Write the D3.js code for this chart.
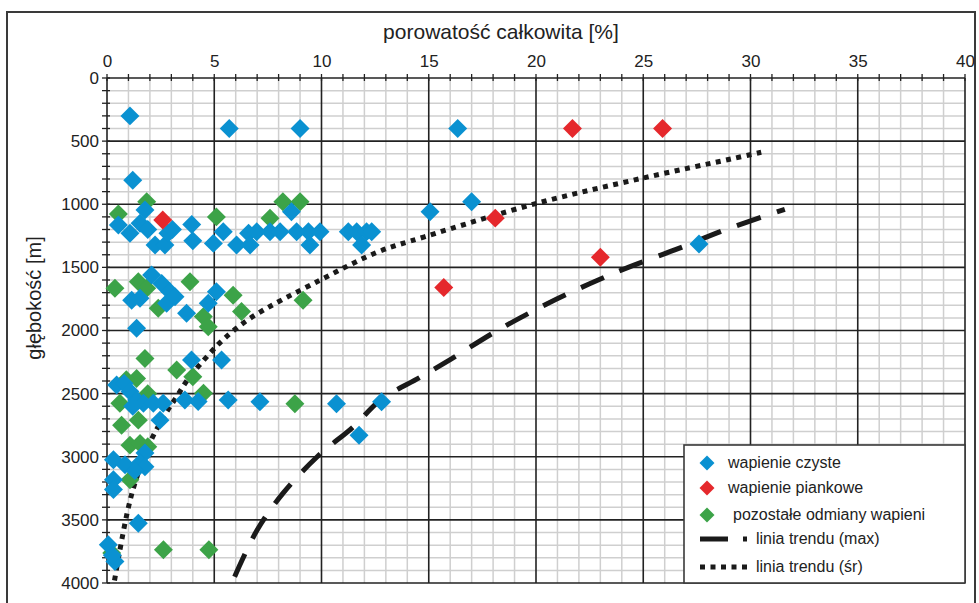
<!DOCTYPE html>
<html><head><meta charset="utf-8">
<script src="https://cdn.jsdelivr.net/npm/d3@7"></script>
<style>
html,body{margin:0;padding:0;background:#fff;}
text{font-family:"Liberation Sans",Arial,sans-serif;fill:#222;}
</style></head>
<body>
<svg id="chart" width="979" height="603"></svg>
<script>
// ---- data (porosity %, depth m) ----
const xTicks = [0,5,10,15,20,25,30,35,40];
const yTicks = [0,500,1000,1500,2000,2500,3000,3500,4000];
const xTitle = "porowatość całkowita [%]";
const yTitle = "głębokość [m]";
const seriesNames = ["wapienie czyste","wapienie piankowe","pozostałe odmiany wapieni"];
const trendNames = ["linia trendu (max)","linia trendu (śr)"];

const bluePorosity = [1.07,5.7,9.0,16.35,1.2,15.06,17.0,27.6,
  0.53,1.07,1.77,1.54,1.9,2.24,2.7,2.84,3.05,3.95,4.0,4.96,5.42,6.04,6.6,6.67,6.98,7.6,8.07,8.6,8.84,9.39,9.46,9.93,11.25,11.64,12.1,11.87,12.34,
  1.15,1.54,2.08,2.55,2.93,2.78,3.17,3.71,5.1,4.72,1.38,
  3.94,5.34,0.45,0.8,1.07,1.38,1.7,1.2,2.16,2.62,3.63,4.25,5.65,7.13,10.7,12.8,11.75,2.47,1.77,0.3,0.84,1.54,1.77,1.3,0.3,0.3,1.46,0.06,0.37,0.25];
const blueDepth = [300,400,400,400,810,1060,980,1315,
  1165,1230,1045,1150,1200,1323,1323,1230,1200,1160,1290,1310,1217,1323,1230,1323,1217,1217,1217,1059,1217,1217,1323,1217,1217,1217,1217,1323,1217,
  1760,1745,1560,1627,1693,1785,1732,1864,1693,1785,1983,
  2234,2234,2432,2420,2484,2550,2576,2600,2576,2576,2550,2563,2550,2565,2580,2565,2830,2710,2971,3024,3063,3050,3080,3110,3182,3260,3526,3697,3829,3780];

const redPorosity = [21.7,25.9,2.6,18.1,23.0,15.7];
const redDepth = [400,400,1125,1110,1420,1660];

const greenPorosity = [0.53,1.85,5.1,7.6,8.2,9.0,
  0.37,1.46,1.85,2.39,3.87,4.49,4.72,5.88,6.27,9.14,
  1.77,3.25,4.0,1.38,0.9,1.9,0.6,4.5,8.76,0.68,1.46,1.07,1.54,1.9,1.07,2.63,4.75,0.22];
const greenDepth = [1078,980,1100,1111,980,980,
  1666,1613,1666,1824,1613,1890,1970,1720,1850,1760,
  2221,2313,2366,2380,2390,2500,2576,2497,2580,2750,2710,2908,2895,2920,3182,3737,3737,3763];

const trendMaxPorosity = [5.95,7.0,8.2,9.8,11.5,12.75,14.6,16.0,18.2,20.5,22.5,24.3,26.5,28.8,31.6];
const trendMaxDepth    = [3950,3580,3290,3000,2760,2550,2370,2230,2000,1790,1630,1500,1360,1204,1040];
const trendAvgPorosity = [0.35,0.92,1.3,2.0,2.7,3.25,3.8,4.8,5.4,6.7,9.95,12.6,14.8,20.1,25.0,29.1,30.5];
const trendAvgDepth    = [3980,3460,3210,2890,2668,2524,2380,2180,2075,1900,1600,1380,1258,990,792,641,588];

const colors = {blue:"#0a91d1", red:"#e5282c", green:"#3ca348"};

// ---- chart ----
const svg = d3.select("#chart");
svg.append("rect").attr("width",979).attr("height",603).attr("fill","#fff");
svg.append("rect").attr("x",7).attr("y",12).attr("width",968).attr("height",610)
  .attr("fill","none").attr("stroke","#3a3a3a").attr("stroke-width",2);

const x = d3.scaleLinear().domain([0,40]).range([107,965]);
const y = d3.scaleLinear().domain([0,4000]).range([78,583]);

const grid = svg.append("g");
grid.selectAll("line.vx").data(d3.range(1,40).filter(v=>v%5)).join("line")
  .attr("x1",d=>x(d)).attr("x2",d=>x(d)).attr("y1",y(0)).attr("y2",y(4000))
  .attr("stroke","#cfcfcf").attr("stroke-width",1.5);
grid.selectAll("line.hy").data(d3.range(100,4000,100).filter(v=>v%500)).join("line")
  .attr("y1",d=>y(d)).attr("y2",d=>y(d)).attr("x1",x(0)).attr("x2",x(40))
  .attr("stroke","#cfcfcf").attr("stroke-width",1.5);
const major = svg.append("g");
major.selectAll("line.mx").data(xTicks).join("line")
  .attr("x1",d=>x(d)).attr("x2",d=>x(d)).attr("y1",y(0)).attr("y2",y(4000))
  .attr("stroke","#222").attr("stroke-width",1.6);
major.selectAll("line.my").data(yTicks).join("line")
  .attr("y1",d=>y(d)).attr("y2",d=>y(d)).attr("x1",x(0)).attr("x2",x(40))
  .attr("stroke","#222").attr("stroke-width",1.6);

svg.append("g").selectAll("line").data(d3.range(0,41)).join("line")
  .attr("x1",d=>x(d)).attr("x2",d=>x(d)).attr("y1",y(0)-4).attr("y2",y(0)+3)
  .attr("stroke","#222").attr("stroke-width",1.3);
svg.append("g").selectAll("line").data(d3.range(0,4001,100)).join("line")
  .attr("y1",d=>y(d)).attr("y2",d=>y(d)).attr("x1",x(0)-5).attr("x2",x(0)+3)
  .attr("stroke","#222").attr("stroke-width",1.3);

const ax = svg.append("g").attr("transform",`translate(0,${y(0)})`)
  .call(d3.axisTop(x).tickValues(xTicks).tickSize(0).tickPadding(11).tickFormat(d3.format("d")));
ax.select(".domain").remove();
ax.selectAll("text").style("font-size","17px").attr("fill","#222");
const ay = svg.append("g").attr("transform",`translate(${x(0)},0)`)
  .call(d3.axisLeft(y).tickValues(yTicks).tickSize(0).tickPadding(8).tickFormat(d3.format("d")));
ay.select(".domain").remove();
ay.selectAll("text").style("font-size","17px").attr("fill","#222");

svg.append("text").attr("x",501).attr("y",39).attr("text-anchor","middle")
  .style("font-size","21px").text(xTitle);
svg.append("text").attr("transform","translate(41,298) rotate(-90)").attr("text-anchor","middle")
  .style("font-size","20px").text(yTitle);

const line = d3.line().x(d=>x(d[0])).y(d=>y(d[1])).curve(d3.curveCatmullRom);
svg.append("path").datum(trendAvgPorosity.map((v,i)=>[v,trendAvgDepth[i]]))
  .attr("d",line).attr("fill","none").attr("stroke","#1a1a1a").attr("stroke-width",5)
  .attr("stroke-dasharray","5,5.5");
svg.append("path").datum(trendMaxPorosity.map((v,i)=>[v,trendMaxDepth[i]]))
  .attr("d",line).attr("fill","none").attr("stroke","#1a1a1a").attr("stroke-width",5)
  .attr("stroke-dasharray","25,17");

const diamond = d3.symbol(d3.symbolSquare, 180);
function drawSeries(px, py, color){
  svg.append("g").selectAll("path").data(px.map((v,i)=>[v,py[i]])).join("path")
    .attr("d",diamond)
    .attr("transform",d=>`translate(${x(d[0])},${y(d[1])}) rotate(45)`)
    .attr("fill",color);
}
drawSeries(greenPorosity, greenDepth, colors.green);
drawSeries(bluePorosity, blueDepth, colors.blue);
drawSeries(redPorosity, redDepth, colors.red);

const lg = svg.append("g").attr("transform","translate(684,445)");
lg.append("rect").attr("width",281).attr("height",138).attr("fill","#fff")
  .attr("stroke","#3a3a3a").attr("stroke-width",1.6);
const lsym = d3.symbol(d3.symbolSquare, 112);
const legendItems = [
  {name:seriesNames[0], color:colors.blue, dy:18, tx:44},
  {name:seriesNames[1], color:colors.red, dy:43, tx:44},
  {name:seriesNames[2], color:colors.green, dy:70, tx:49}
];
legendItems.forEach(it=>{
  lg.append("path").attr("d",lsym).attr("transform",`translate(23,${it.dy}) rotate(45)`).attr("fill",it.color);
  lg.append("text").attr("x",it.tx).attr("y",it.dy+5).style("font-size","16px").text(it.name);
});
lg.append("line").attr("x1",16).attr("x2",63).attr("y1",94).attr("y2",94)
  .attr("stroke","#1a1a1a").attr("stroke-width",5).attr("stroke-dasharray","28,15");
lg.append("text").attr("x",72).attr("y",99).style("font-size","16px").text(trendNames[0]);
lg.append("line").attr("x1",16).attr("x2",63).attr("y1",122).attr("y2",122)
  .attr("stroke","#1a1a1a").attr("stroke-width",5).attr("stroke-dasharray","5,5.5");
lg.append("text").attr("x",72).attr("y",127).style("font-size","16px").text(trendNames[1]);
</script>
</body></html>
